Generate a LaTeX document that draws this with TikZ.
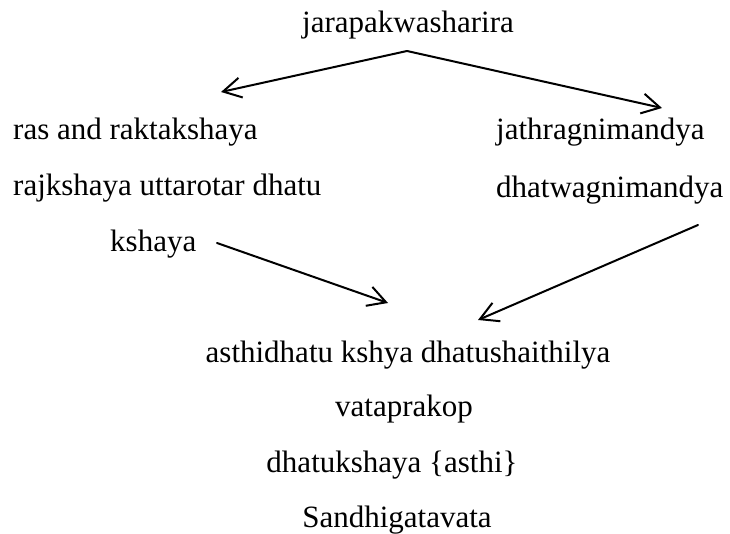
\documentclass[tikz,border=0pt]{standalone}
\usepackage{fontspec}
\setmainfont{Liberation Serif}
\usetikzlibrary{arrows.meta}

\begin{document}
\begin{tikzpicture}[x=1pt,y=-1pt,
  every node/.style={inner sep=0pt,font=\fontsize{31}{37}\selectfont},
  arr/.style={-{Straight Barb[length=18pt,width=20pt]},line width=2pt,line cap=round}]
\useasboundingbox (0,0) rectangle (730,534);
\node [anchor=base] (a) at (408,33) {jarapakwasharira};
\node [anchor=base west] (b) at (13,140) {ras and raktakshaya};
\node [anchor=base west] (c) at (13,196) {rajkshaya uttarotar dhatu};
\node [anchor=base west] (d) at (110,252) {kshaya};
\node [anchor=base west] (e) at (496,140) {jathragnimandya};
\node [anchor=base west] (f) at (496,198) {dhatwagnimandya};
\node [anchor=base] (g) at (408,362) {asthidhatu kshya dhatushaithilya};
\node [anchor=base] (h) at (404,416) {vataprakop};
\node [anchor=base] (i) at (392,472) {dhatukshaya \{asthi\}};
\node [anchor=base] (j) at (397,527) {Sandhigatavata};
\coordinate (p) at (407,51);
\coordinate (q) at (221,92);
\coordinate (r) at (662,108);
\coordinate (s) at (217,243);
\coordinate (t) at (388,303);
\coordinate (u) at (698,225);
\coordinate (v) at (478,320);
\path [arr] (p) edge (q);
\path [arr] (p) edge (r);
\path [arr] (s) edge (t);
\path [arr] (u) edge (v);
\end{tikzpicture}
\end{document}
